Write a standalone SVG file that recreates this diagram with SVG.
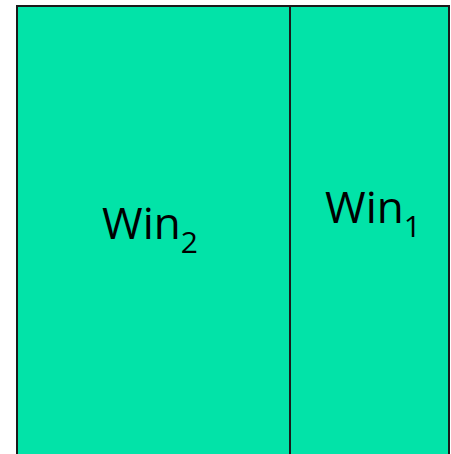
<svg xmlns="http://www.w3.org/2000/svg" width="451" height="454" viewBox="0 0 451 454">
<style>
.win{fill:#02e3a8;stroke:#1a1a1a;stroke-width:2}
.lbl{font-family:"Open Sans","Noto Sans",sans-serif;font-size:44px;fill:#000}
.sub{font-size:30px}
</style>
<g id="win2">
<rect class="win" x="17" y="6" width="273" height="452"/>
<text class="lbl" x="102" y="239">Win<tspan class="sub" dy="14">2</tspan></text>
</g>
<g id="win1">
<rect class="win" x="290" y="6" width="159" height="452"/>
<text class="lbl" x="325" y="223">Win<tspan class="sub" dy="14">1</tspan></text>
</g>
<g id="connectors"/>
</svg>
